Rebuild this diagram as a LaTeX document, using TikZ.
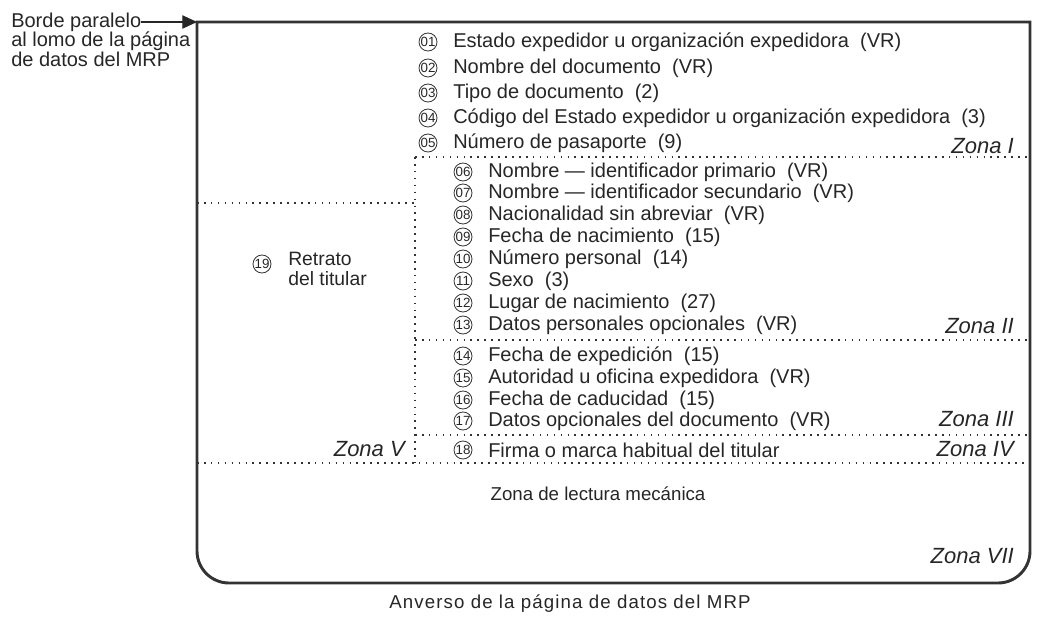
\documentclass[tikz,border=0pt]{standalone}
\usepackage{fontspec}
\setmainfont{Liberation Sans}
\usetikzlibrary{arrows.meta, positioning}

\begin{document}
\begin{tikzpicture}[x=0.75pt,y=-0.75pt,line join=miter]
    \tikzstyle{frame}=[line width=2.2pt, draw=black!80]
    \tikzstyle{zoneline}=[draw=black!80, line width=1.2pt, dash pattern=on 1.2pt off 4pt]
    \tikzstyle{num}=[circle, draw=black!80, line width=0.6pt, inner sep=0pt, minimum size=13.5pt, font=\fontsize{10}{10}\selectfont, text=black!85]
    \tikzstyle{item}=[anchor=west, inner sep=0pt, font=\fontsize{15}{17}\selectfont, text=black!85]
    \tikzstyle{zone}=[anchor=east, inner sep=0pt, font=\fontsize{16.5}{18}\selectfont\itshape, text=black!85]

    \useasboundingbox (0,0) rectangle (1037,620);

    % outer frame of the page
    \coordinate (TL) at (197,22);
    \coordinate (TR) at (1030,22);
    \coordinate (BR) at (1030,583);
    \coordinate (BL) at (197,583);
    \draw[frame] (197,300) -- (TL) -- (TR) -- (1030,300) [rounded corners=24] -- (BR) -- (BL) -- cycle;

    % edge label
    \node[anchor=north west, align=left, inner sep=0pt, font=\fontsize{15}{14.4}\selectfont, text=black!85] (edge) at (11,13)
        {Borde paralelo\\al lomo de la página\\de datos del MRP};
    \coordinate (edgeend) at (141,22);
    \draw[line width=0.8pt, draw=black!85, -{Triangle[length=11pt,width=10pt]}] (edgeend) -- (TL);

    % zone boundaries
    \draw[zoneline] (415,157) -- (1030,157);
    \draw[zoneline] (197,203) -- (415,203);
    \draw[zoneline] (415,157) -- (415,463);
    \draw[zoneline] (415,340) -- (1030,340);
    \draw[zoneline] (415,435) -- (1030,435);
    \draw[zoneline] (197,463) -- (1030,463);

    % Zona I
    \node[num] (n01) at (428,42) {01};
    \node[item] (t01) at (453,42) {Estado expedidor u organización expedidora~ (VR)};
    \node[num] (n02) at (428,68) {02};
    \node[item] (t02) at (453,68) {Nombre del documento~ (VR)};
    \node[num] (n03) at (428,93) {03};
    \node[item] (t03) at (453,93) {Tipo de documento~ (2)};
    \node[num] (n04) at (428,118) {04};
    \node[item] (t04) at (453,118) {Código del Estado expedidor u organización expedidora~ (3)};
    \node[num] (n05) at (428,143) {05};
    \node[item] (t05) at (453,143) {Número de pasaporte~ (9)};
    \node[zone] (z1) at (1014,146) {Zona I};

    % Zona II
    \node[num] (n06) at (463,172) {06};
    \node[item] (t06) at (488,172) {Nombre — identificador primario~ (VR)};
    \node[num] (n07) at (463,193) {07};
    \node[item] (t07) at (488,193) {Nombre — identificador secundario~ (VR)};
    \node[num] (n08) at (463,215) {08};
    \node[item] (t08) at (488,215) {Nacionalidad sin abreviar~ (VR)};
    \node[num] (n09) at (463,237) {09};
    \node[item] (t09) at (488,237) {Fecha de nacimiento~ (15)};
    \node[num] (n10) at (463,259) {10};
    \node[item] (t10) at (488,259) {Número personal~ (14)};
    \node[num] (n11) at (463,281) {11};
    \node[item] (t11) at (488,281) {Sexo~ (3)};
    \node[num] (n12) at (463,303) {12};
    \node[item] (t12) at (488,303) {Lugar de nacimiento~ (27)};
    \node[num] (n13) at (463,325) {13};
    \node[item] (t13) at (488,325) {Datos personales opcionales~ (VR)};
    \node[zone] (z2) at (1014,326) {Zona II};

    % Zona III
    \node[num] (n14) at (463,356) {14};
    \node[item] (t14) at (488,356) {Fecha de expedición~ (15)};
    \node[num] (n15) at (463,378) {15};
    \node[item] (t15) at (488,378) {Autoridad u oficina expedidora~ (VR)};
    \node[num] (n16) at (463,400) {16};
    \node[item] (t16) at (488,400) {Fecha de caducidad~ (15)};
    \node[num] (n17) at (463,421) {17};
    \node[item] (t17) at (488,421) {Datos opcionales del documento~ (VR)};
    \node[zone] (z3) at (1014,419) {Zona III};

    % Zona IV
    \node[num] (n18) at (463,450) {18};
    \node[item] (t18) at (488,450) {Firma o marca habitual del titular};
    \node[zone] (z4) at (1014,449) {Zona IV};

    % Zona V
    \node[num] (n19) at (262,264) {19};
    \node[item, anchor=north west, align=left, font=\fontsize{14.5}{15}\selectfont] (t19) at (288,252) {Retrato\\del titular};
    \node[zone] (z5) at (405,449) {Zona V};

    % Zona VII
    \node[item, anchor=center, font=\fontsize{14}{16}\selectfont] (mrz) at (598,494) {Zona de lectura mecánica};
    \node[zone] (z7) at (1014,556) {Zona VII};

    % caption
    \node[inner sep=0pt, font=\fontsize{14}{16}\selectfont\addfontfeatures{LetterSpace=6}, text=black!85] (cap) at (570,604) {Anverso de la página de datos del MRP};
\end{tikzpicture}
\end{document}
